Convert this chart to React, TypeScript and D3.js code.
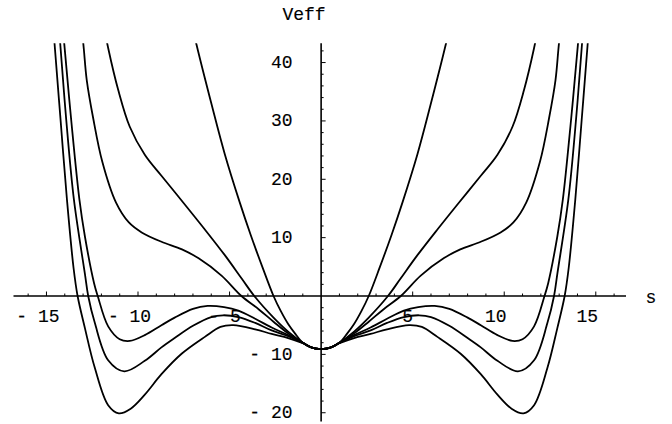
import React from 'react';
import * as d3 from 'd3';

const W = 672;
const H = 424;

// Plot ranges (axis extents)
const S_MIN = -16.8;
const S_MAX = 16.65;
const V_MIN = -21.5;
const V_MAX = 43.3;

// Tick values
const X_MAJOR = [-15, -10, -5, 5, 10, 15];
const X_LABELS = ['- 15', '- 10', '- 5', '5', '10', '15'];
const X_MINOR = d3.range(-16, 17).filter((v) => v !== 0);
const Y_MAJOR = [-20, -10, 10, 20, 30, 40];
const Y_LABELS = ['- 20', '- 10', '10', '20', '30', '40'];
const Y_MINOR = [-20, -18, -16, -14, -12, -10, -8, -6, -4, -2, 2, 4, 6, 8, 10, 12, 14, 16, 18, 20, 22, 24, 26, 28, 30, 32, 34, 36, 38, 40, 42];

// Curves, s >= 0 half (the curves are even in s)
const S_A = [0, 0.5, 1, 1.43, 1.8, 2.2, 2.6, 3.2, 3.85, 4.44, 5.26, 5.98, 6.8, 7.2];
const V_A = [-9.1, -8.85, -8, -6.4, -4.8, -2.6, 0, 4.9, 10.5, 16.0, 24.3, 32.8, 43.0, 48.5];

const S_B = [0, 0.5, 1, 1.8, 2.6, 3.65, 4.34, 5.26, 6.35, 7.5, 8.72, 9.63, 10.45, 11.08, 11.63, 12.0];
const V_B = [-9.1, -8.85, -8, -6.1, -3.7, 0, 3.0, 7.0, 11.4, 15.9, 20.6, 24.2, 29.0, 35.3, 42.5, 48.5];

const S_C = [0, 0.5, 1, 1.8, 2.6, 3.4, 4.35, 5.44, 6.71, 7.6, 8.72, 9.8, 10.5, 11.2, 11.95, 12.45, 12.8, 13.0, 13.3];
const V_C = [-9.1, -8.85, -8, -6.4, -4.4, -2.3, 0, 3.5, 6.5, 8.0, 9.3, 10.9, 12.6, 16.0, 23.0, 30.5, 37, 43.6, 51];

const S_D = [0, 0.5, 1, 1.8, 2.7, 3.6, 4.52, 5.3, 6.2, 7.0, 8.0, 8.72, 9.63, 10.45, 11.0, 11.63, 12.2, 12.4, 12.9, 13.2, 13.65, 14.03, 14.3];
const V_D = [-9.1, -8.85, -8, -6.7, -5.4, -3.9, -2.5, -1.9, -1.7, -2.2, -3.7, -5.0, -6.7, -7.7, -7.4, -5.2, 0, 2.2, 10.2, 16.5, 30.2, 43.3, 53];

const S_E = [0, 0.5, 1, 1.8, 2.7, 3.6, 4.52, 5.35, 6.0, 7.0, 8.0, 8.72, 9.63, 10.75, 11.63, 12.36, 12.72, 12.9, 13.5, 13.92, 14.25, 14.5];
const V_E = [-9.1, -8.85, -8.05, -6.9, -5.9, -4.6, -3.6, -3.3, -3.6, -5.1, -7.2, -8.8, -11.1, -12.9, -11.0, -4.6, 0, 3.8, 16.5, 30.2, 43.3, 53];

const S_F = [0, 0.5, 1, 1.8, 2.7, 3.6, 4.8, 5.5, 6.35, 7.62, 8.72, 9.63, 10.4, 11.05, 11.63, 12.36, 12.9, 13.3, 13.52, 13.88, 14.23, 14.56, 14.8];
const V_F = [-9.1, -8.85, -8.1, -7.2, -6.5, -5.7, -5.0, -5.3, -7.0, -9.9, -13.4, -16.9, -19.3, -20.1, -18.7, -12.3, -5.5, 0, 4.8, 16.5, 30.2, 43.3, 53];

const CURVES: [number[], number[]][] = [
  [S_A, V_A],
  [S_B, V_B],
  [S_C, V_C],
  [S_D, V_D],
  [S_E, V_E],
  [S_F, V_F],
];

// Full even curve: mirror the read half onto negative s
function fullCurve(s: number[], v: number[]): [number, number][] {
  const right = s.map((x, i) => [x, v[i]] as [number, number]);
  const left = right.slice(1).map(([x, y]) => [-x, y] as [number, number]).reverse();
  return [...left, ...right];
}

const FONT = '"Liberation Mono", "Courier New", monospace';

export default function App() {
  const x = d3.scaleLinear().domain([S_MIN, S_MAX]).range([13.5, 626]);
  const y = d3.scaleLinear().domain([V_MIN, V_MAX]).range([421.5, 43.3]);
  const x0 = x(0);
  const y0 = y(0);

  const line = d3
    .line<[number, number]>()
    .x((d) => x(d[0]))
    .y((d) => y(d[1]))
    .curve(d3.curveCatmullRom.alpha(0.5));

  const textProps = {
    fontFamily: FONT,
    fontSize: 18,
    fill: '#000',
    stroke: '#000',
    strokeWidth: 0.15,
  };

  return (
    <svg
      width={W}
      height={H}
      style={{ position: 'absolute', left: 0, top: 0, background: '#fff' }}
    >
      <defs>
        <clipPath id="plotclip">
          <rect x={x(S_MIN)} y={y(V_MAX)} width={x(S_MAX) - x(S_MIN)} height={y(V_MIN) - y(V_MAX)} />
        </clipPath>
      </defs>
      <rect x={0} y={0} width={W} height={H} fill="#fff" />

      {/* x axis */}
      <line x1={x(S_MIN)} x2={x(S_MAX)} y1={y0} y2={y0} stroke="#000" strokeWidth={1.6} />
      {X_MINOR.map((t) => (
        <line
          key={'xm' + t}
          x1={x(t)}
          x2={x(t)}
          y1={y0}
          y2={y0 - (t % 5 === 0 ? 4.5 : 2.5)}
          stroke="#000"
          strokeWidth={1}
        />
      ))}
      {X_MAJOR.map((t, i) => (
        <text
          key={'xl' + t}
          x={x(t) + (Math.abs(t) < 10 ? -5 : -8.5)}
          y={322}
          textAnchor="middle"
          {...textProps}
        >
          {X_LABELS[i]}
        </text>
      ))}
      <text x={651} y={303} textAnchor="middle" {...textProps}>
        s
      </text>

      {/* y axis */}
      <line x1={x0} x2={x0} y1={y(V_MAX)} y2={y(V_MIN)} stroke="#000" strokeWidth={1.6} />
      {Y_MINOR.map((t) => (
        <line
          key={'ym' + t}
          x1={x0}
          x2={x0 + (t % 10 === 0 ? 4.5 : 2.5)}
          y1={y(t)}
          y2={y(t)}
          stroke="#000"
          strokeWidth={1}
        />
      ))}
      {Y_MAJOR.map((t, i) => (
        <text key={'yl' + t} x={292.5} y={y(t) + 5.5} textAnchor="end" {...textProps}>
          {Y_LABELS[i]}
        </text>
      ))}
      <text x={304} y={20} textAnchor="middle" {...textProps}>
        Veff
      </text>

      {/* curves */}
      <g clipPath="url(#plotclip)">
        {CURVES.map(([s, v], i) => (
          <path
            key={'c' + i}
            d={line(fullCurve(s, v)) || ''}
            fill="none"
            stroke="#000"
            strokeWidth={1.8}
          />
        ))}
      </g>
    </svg>
  );
}
